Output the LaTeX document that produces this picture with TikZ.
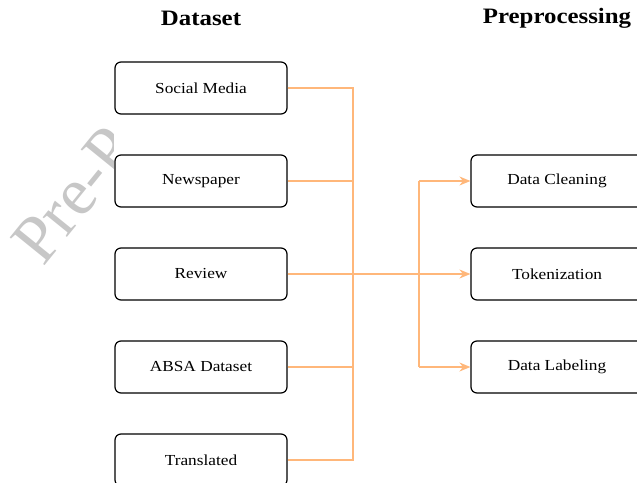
\documentclass[tikz,border=0pt]{standalone}
\usepackage{fontspec}
\setmainfont{Liberation Serif}[FakeStretch=1.13]
\newfontfamily\wmfont{Liberation Serif}
\usetikzlibrary{arrows.meta}
\definecolor{flow}{RGB}{255,183,122}
\tikzset{
  srcbox/.style={draw=black, line width=1.2pt, rounded corners=6pt, fill=white,
    minimum width=172pt, minimum height=52pt, font=\fontsize{15.3}{18}\selectfont},
  title/.style={font=\fontsize{22}{26}\selectfont\bfseries},
  link/.style={draw=flow, line width=1.4pt},
  arr/.style={link, -{Stealth[length=11pt,width=9pt]}},
}
\begin{document}
\begin{tikzpicture}[x=1pt,y=-1pt]
\useasboundingbox (0,0) rectangle (637,482);
% watermark
\begin{scope}
  \clip (0,40) rectangle (113.5,482);
  \node[rotate=51, text=black!22, font=\wmfont\fontsize{68}{68}\selectfont,
        anchor=base west, inner sep=0pt] (wm) at (43,268) {Pre-Print};
\end{scope}
\node[title] (t1) at (201,18) {Dataset};
\node[title] (t2) at (557,18) {Preprocessing};
\node[srcbox] (sm) at (201,88) {Social Media};
\node[srcbox] (nw) at (201,181) {Newspaper};
\node[srcbox] (rv) at (201,274) {Review};
\node[srcbox] (ab) at (201,367) {ABSA Dataset};
\node[srcbox] (tr) at (201,460) {Translated};
\node[srcbox] (dc) at (557,181) {Data Cleaning};
\node[srcbox] (tk) at (557,274) {Tokenization};
\node[srcbox] (dl) at (557,367) {Data Labeling};
\coordinate (j1) at (353,88);
\coordinate (j5) at (353,460);
\coordinate (k1) at (419,181);
\coordinate (k3) at (419,367);
\draw[link] (sm.east) -- (j1) -- (j5) -- (tr.east);
\draw[link] (nw.east) -- (nw.east -| j1);
\draw[link] (ab.east) -- (ab.east -| j1);
\draw[arr] (rv.east) -- (tk.west);
\draw[link] (k1) -- (k3);
\draw[arr] (k1) -- (dc.west);
\draw[arr] (k3) -- (dl.west);
\end{tikzpicture}
\end{document}
